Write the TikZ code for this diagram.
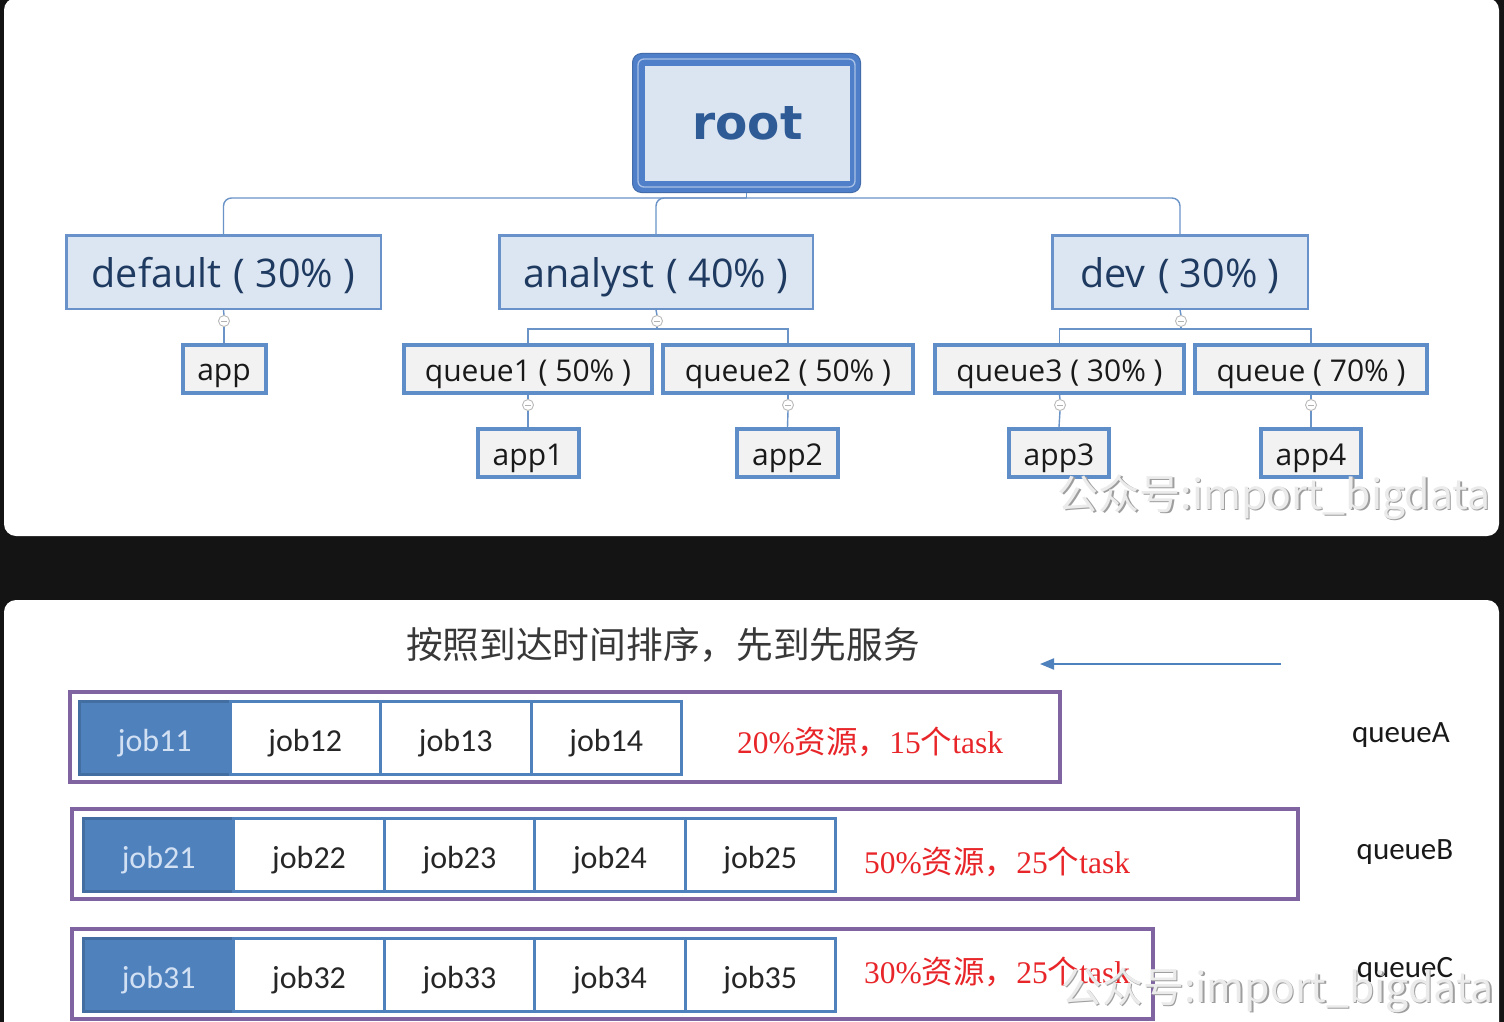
\documentclass[tikz,border=0pt]{standalone}
\usepackage{fontspec}
\setmainfont{Liberation Serif}
\newfontfamily\treefont{Open Sans}
\newfontfamily\rootfont{DejaVu Sans}
\newfontfamily\jobfont{Carlito}
\newfontfamily\cjk{Noto Sans CJK SC}
\usetikzlibrary{arrows.meta,calc}

\definecolor{bg}{HTML}{141414}
\definecolor{rootblue}{HTML}{4F7FC8}
\definecolor{rootline}{HTML}{A9C1E6}
\definecolor{rootfill}{HTML}{DBE5F1}
\definecolor{roottext}{HTML}{2E5A96}
\definecolor{lvfill}{HTML}{DCE6F2}
\definecolor{lvdraw}{HTML}{6892C9}
\definecolor{lvtext}{HTML}{1F3A60}
\definecolor{grayfill}{HTML}{F2F2F2}
\definecolor{boxdraw}{HTML}{5F8DC8}
\definecolor{conncol}{HTML}{6A93C8}
\definecolor{jobblue}{HTML}{4F81BD}
\definecolor{jobtext}{HTML}{D2E0F3}
\definecolor{purp}{HTML}{8064A2}
\definecolor{redtxt}{HTML}{E8262A}

\begin{document}
\begin{tikzpicture}[x=1pt,y=-1pt,
  lvone/.style={draw=lvdraw, line width=2.5pt, fill=lvfill, minimum height=73.5pt, inner sep=0pt, text=lvtext, text height=30pt, text depth=0pt, font=\treefont\fontsize{39.5}{39.5}\selectfont},
  lvtwo/.style={draw=boxdraw, line width=4pt, fill=grayfill, minimum height=48pt, inner sep=0pt, text=black!90, text height=24pt, text depth=0pt, font=\treefont\fontsize{30}{30}\selectfont},
  conn/.style={draw=conncol, line width=1.4pt},
  minusc/.style={circle, draw=gray!55, fill=white, line width=0.9pt, minimum size=11pt, inner sep=0pt,
    path picture={\draw[gray!60, line width=0.9pt] ([xshift=-3pt]path picture bounding box.center) -- ([xshift=3pt]path picture bounding box.center);}},
  jobbox/.style={draw=jobblue, line width=3pt, fill=white, minimum width=150.5pt, minimum height=73pt, inner sep=0pt, outer sep=0pt, text=black!85, text height=27pt, text depth=0pt, font=\jobfont\fontsize{32}{32}\selectfont, anchor=west},
  jobdark/.style={jobbox, fill=jobblue, draw=jobblue!85!black, text=jobtext},
  frame/.style={draw=purp, line width=4pt, inner sep=0pt, minimum height=90pt},
  redt/.style={text=redtxt, inner sep=0pt, font=\fontsize{31.5}{31.5}\selectfont},
  qlabel/.style={inner sep=0pt, text=black!90, font=\jobfont\fontsize{31}{31}\selectfont},
  wm/.style={inner sep=0pt, text=white!92!black, font=\cjk\fontsize{41}{41}\selectfont},
  wmshadow/.style={inner sep=0pt, text=black!38, font=\cjk\fontsize{41}{41}\selectfont}
]
\useasboundingbox (0,0) rectangle (1504,1022);
\clip (0,0) rectangle (1504,1022);
\fill[bg] (0,0) rectangle (1504,1022);
\fill[white, rounded corners=12pt] (4,-2) rectangle (1499,536);
\fill[white, rounded corners=12pt] (4,600) rectangle (1499,1050);

% ---------- tree ----------
\node[fill=rootblue, draw=rootblue!85!black, line width=1pt, rounded corners=9pt, minimum width=228pt, minimum height=139pt, inner sep=0pt] (rootframe) at (746.5,123) {};
\draw[rootline, line width=1.3pt, rounded corners=6pt] ([shift={(6,6)}]rootframe.north west) rectangle ([shift={(-6,-6)}]rootframe.south east);
\node[fill=rootfill, minimum width=205pt, minimum height=114pt, inner sep=0pt, text=roottext, font=\rootfont\bfseries\fontsize{47}{47}\selectfont] (root) at (747.5,123.5) {root};

\node[lvone, minimum width=314.5pt] (default) at (223.5,272) {default\hspace{2pt} ( 30\% )\hspace{16pt}};
\node[lvone, minimum width=313.5pt] (analyst) at (656,272) {analyst\hspace{2pt} ( 40\% )\hspace{16pt}};
\node[lvone, minimum width=255.5pt] (dev) at (1180,272) {dev\hspace{2pt} ( 30\% )\hspace{16pt}};

\node[lvtwo, minimum width=83pt] (app) at (224,368.5) {app\hspace{3pt}};
\node[lvtwo, minimum width=248pt] (q1) at (528,369) {queue1 ( 50\% )\hspace{12pt}};
\node[lvtwo, minimum width=250pt] (q2) at (788,369) {queue2 ( 50\% )\hspace{12pt}};
\node[lvtwo, minimum width=249pt] (q3) at (1059.5,369) {queue3 ( 30\% )\hspace{12pt}};
\node[lvtwo, minimum width=232pt] (q4) at (1311,369) {queue ( 70\% )\hspace{12pt}};

\node[lvtwo, minimum width=101pt] (app1) at (528,453) {app1\hspace{5pt}};
\node[lvtwo, minimum width=101pt] (app2) at (787.5,453) {app2\hspace{3pt}};
\node[lvtwo, minimum width=100pt] (app3) at (1059,453) {app3\hspace{3pt}};
\node[lvtwo, minimum width=100pt] (app4) at (1311,453) {app4\hspace{3pt}};

\coordinate (rbus) at (746.5,198);
\coordinate (bus1) at (657,329);
\coordinate (bus2) at (1181,329);

\draw[conn] (rootframe.south) -- (rbus);
\draw[conn, rounded corners=8pt] (default.north) |- (rbus) -| (dev.north);
\draw[conn, rounded corners=8pt] (analyst.north) |- (rbus);

\node[minusc] (m0) at (224,321) {};
\node[minusc] (m1) at (657,321) {};
\node[minusc] (m2) at (1181,321) {};
\node[minusc] (m3) at (528,405) {};
\node[minusc] (m4) at (788,405) {};
\node[minusc] (m5) at (1060,405) {};
\node[minusc] (m6) at (1311,405) {};

\draw[conn] (default.south) -- (m0.north);
\draw[conn] (m0.south) -- (app.north);
\draw[conn] (analyst.south) -- (m1.north);
\draw[conn] (m1.south) -- (bus1);
\draw[conn] (q1.north) |- (bus1) -| (q2.north);
\draw[conn] (dev.south) -- (m2.north);
\draw[conn] (m2.south) -- (bus2);
\draw[conn] (q3.north) |- (bus2) -| (q4.north);
\draw[conn] (q1.south) -- (m3.north);
\draw[conn] (m3.south) -- (app1.north);
\draw[conn] (q2.south) -- (m4.north);
\draw[conn] (m4.south) -- (app2.north);
\draw[conn] (q3.south) -- (m5.north);
\draw[conn] (m5.south) -- (app3.north);
\draw[conn] (q4.south) -- (m6.north);
\draw[conn] (m6.south) -- (app4.north);

\node[wmshadow] (wm1s) at (1275.5,498.5) {公众号:import\_bigdata};
\node[wm] (wm1) at (1274,497) {公众号:import\_bigdata};

% ---------- queues ----------
\node[inner sep=0pt, text=black!78, font=\cjk\fontsize{36.7}{36.7}\selectfont] (title) at (663,645) {按照到达时间排序，先到先服务};
\coordinate (as) at (1281,664);
\coordinate (ae) at (1040,664);
\draw[jobblue, line width=2pt, -{Triangle[length=14pt,width=11pt]}] (as) -- (ae);

\node[frame, minimum width=990pt] (qa) at (565,737) {};
\node[frame, minimum width=1226pt] (qb) at (685,854) {};
\node[frame, minimum width=1081pt] (qc) at (612.5,974) {};

\node[jobdark] (j11) at (79.5,738) {job11};
\node[jobbox] (j12) at (j11.east) {job12};
\node[jobbox] (j13) at (j12.east) {job13};
\node[jobbox] (j14) at (j13.east) {job14};

\node[jobdark, minimum width=150.4pt] (j21) at (83.5,855) {job21};
\node[jobbox, minimum width=150.4pt] (j22) at (j21.east) {job22};
\node[jobbox, minimum width=150.4pt] (j23) at (j22.east) {job23};
\node[jobbox, minimum width=150.4pt] (j24) at (j23.east) {job24};
\node[jobbox, minimum width=150.4pt] (j25) at (j24.east) {job25};

\node[jobdark, minimum width=150.4pt] (j31) at (83.5,975) {job31};
\node[jobbox, minimum width=150.4pt] (j32) at (j31.east) {job32};
\node[jobbox, minimum width=150.4pt] (j33) at (j32.east) {job33};
\node[jobbox, minimum width=150.4pt] (j34) at (j33.east) {job34};
\node[jobbox, minimum width=150.4pt] (j35) at (j34.east) {job35};

\node[redt] (ra) at (870,742) {20\%{\cjk 资源，}15{\cjk 个}task};
\node[redt] (rb) at (997,862) {50\%{\cjk 资源，}25{\cjk 个}task};
\node[redt] (rc) at (997,972) {30\%{\cjk 资源，}25{\cjk 个}task};

\node[qlabel] (la) at (1401,735) {queueA};
\node[qlabel] (lb) at (1405,852) {queueB};
\node[qlabel] (lc) at (1405,970) {queueC};

\node[wmshadow] (wm2s) at (1279,991.5) {公众号:import\_bigdata};
\node[wm] (wm2) at (1277.5,990) {公众号:import\_bigdata};
\end{tikzpicture}
\end{document}
